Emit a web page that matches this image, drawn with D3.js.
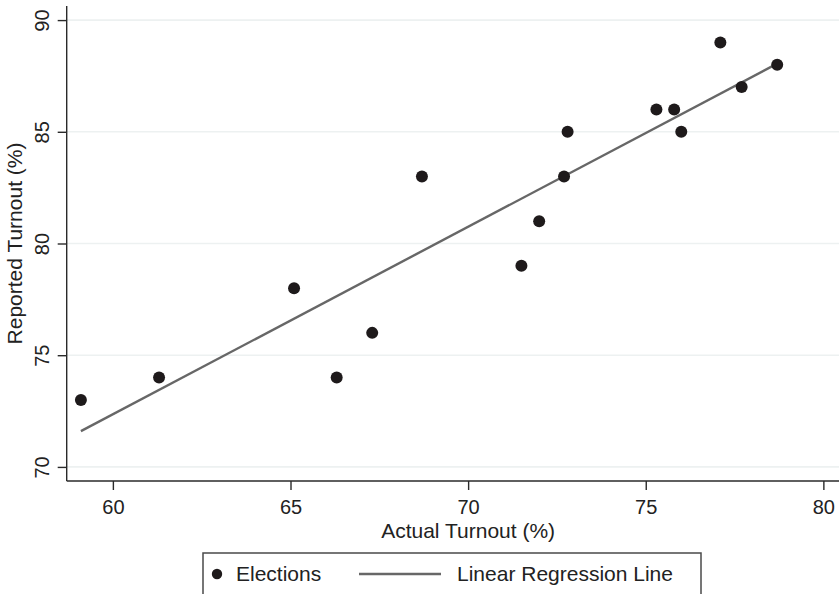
<!DOCTYPE html>
<html>
<head>
<meta charset="utf-8">
<script src="https://cdn.jsdelivr.net/npm/d3@7"></script>
<style>
  body { margin: 0; background: #fff; }
  svg { display: block; font-family: "Liberation Sans", Arial, Helvetica, sans-serif; }
</style>
</head>
<body>
<svg id="chart" width="839" height="594"></svg>
<script>
// actual vs reported turnout, one point per election
var actualTurnout   = [59.1, 61.3, 65.1, 66.3, 67.3, 68.7, 71.5, 72.0, 72.7, 72.8, 75.3, 75.8, 76.0, 77.1, 77.7, 78.7];
var reportedTurnout = [73,   74,   78,   74,   76,   83,   79,   81,   83,   85,   86,   86,   85,   89,   87,   88];

// fitted line at its two ends
var regX = [59.1, 78.7];
var regY = [71.6, 88.05];

var xTicks = [60, 65, 70, 75, 80];
var yTicks = [70, 75, 80, 85, 90];

var svg = d3.select("#chart");

var plotLeft = 66.7, plotRight = 839, plotTop = 6, plotBottom = 481;

var x = d3.scaleLinear().domain([58.7, 80.44]).range([plotLeft, plotRight]);
var y = d3.scaleLinear().domain([69.37, 90.63]).range([plotBottom, plotTop]);

// grid
svg.append("g")
    .selectAll("line")
    .data(yTicks)
    .enter()
    .append("line")
    .attr("x1", plotLeft)
    .attr("x2", plotRight)
    .attr("y1", function(d){ return y(d); })
    .attr("y2", function(d){ return y(d); })
    .attr("stroke", "#edf1f1")
    .attr("stroke-width", 1.6);

// axes
var yAxis = svg.append("g")
    .attr("transform", "translate(" + plotLeft + ",0)")
    .call(d3.axisLeft(y).tickValues(yTicks).tickSize(9).tickSizeOuter(0));
yAxis.select(".domain").attr("d", "M0," + plotTop + "V" + plotBottom);
yAxis.selectAll("text")
    .attr("x", null)
    .attr("dy", "0.35em")
    .attr("text-anchor", "middle")
    .attr("transform", "translate(-25,0) rotate(-90)");

var xAxis = svg.append("g")
    .attr("transform", "translate(0," + plotBottom + ")")
    .call(d3.axisBottom(x).tickValues(xTicks).tickSize(9).tickSizeOuter(0).tickPadding(10));
xAxis.select(".domain").attr("d", "M" + plotLeft + ",0H" + plotRight);

svg.selectAll(".tick text")
    .attr("font-size", "20px")
    .attr("font-family", "Liberation Sans, Arial, sans-serif")
    .attr("fill", "#222");
svg.selectAll(".tick line, .domain")
    .attr("stroke", "#2a2a2a")
    .attr("stroke-width", 1.4);

// titles
svg.append("text")
    .attr("x", (x(60) + x(80)) / 2)
    .attr("y", 531)
    .attr("dy", "0.35em")
    .attr("text-anchor", "middle")
    .attr("font-size", "21px")
    .attr("fill", "#222")
    .text("Actual Turnout (%)");

svg.append("text")
    .attr("transform", "translate(15," + ((y(70) + y(90)) / 2) + ") rotate(-90)")
    .attr("dy", "0.35em")
    .attr("text-anchor", "middle")
    .attr("font-size", "21px")
    .attr("fill", "#222")
    .text("Reported Turnout (%)");

// regression line
svg.append("line")
    .attr("x1", x(regX[0]))
    .attr("y1", y(regY[0]))
    .attr("x2", x(regX[1]))
    .attr("y2", y(regY[1]))
    .attr("stroke", "#676767")
    .attr("stroke-width", 2.4);

// points
svg.append("g")
    .selectAll("circle")
    .data(actualTurnout)
    .enter()
    .append("circle")
    .attr("cx", function(d){ return x(d); })
    .attr("cy", function(d, i){ return y(reportedTurnout[i]); })
    .attr("r", 6)
    .attr("fill", "#1e1a1b");

// legend
var legend = svg.append("g");
legend.append("rect")
    .attr("x", 203)
    .attr("y", 553)
    .attr("width", 498)
    .attr("height", 60)
    .attr("fill", "#fff")
    .attr("stroke", "#4a4a4a")
    .attr("stroke-width", 1.5);
legend.append("circle")
    .attr("cx", 217)
    .attr("cy", 574)
    .attr("r", 5.2)
    .attr("fill", "#1e1a1b");
legend.append("text")
    .attr("x", 236)
    .attr("y", 574)
    .attr("dy", "0.35em")
    .attr("font-size", "21px")
    .attr("fill", "#222")
    .text("Elections");
legend.append("line")
    .attr("x1", 359)
    .attr("x2", 441)
    .attr("y1", 574)
    .attr("y2", 574)
    .attr("stroke", "#676767")
    .attr("stroke-width", 2.4);
legend.append("text")
    .attr("x", 457)
    .attr("y", 574)
    .attr("dy", "0.35em")
    .attr("font-size", "21px")
    .attr("fill", "#222")
    .text("Linear Regression Line");
</script>
</body>
</html>
